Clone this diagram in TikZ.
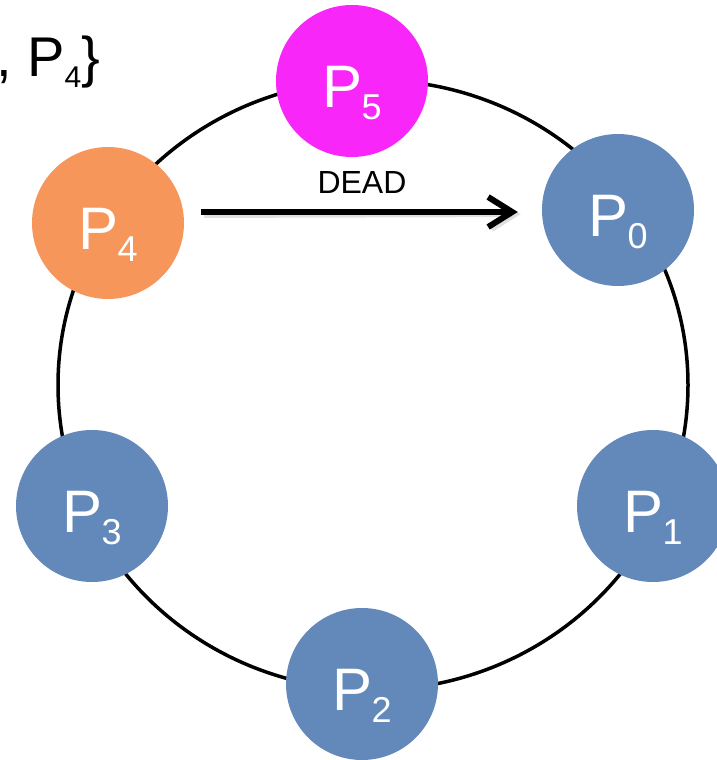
\documentclass[tikz,border=0pt]{standalone}
\usepackage{fontspec}
\setmainfont{Liberation Sans}
\usetikzlibrary{arrows.meta}
\definecolor{pblue}{RGB}{99,136,186}
\definecolor{porange}{RGB}{247,150,90}
\definecolor{pmag}{RGB}{248,38,248}
\newcommand{\plab}[1]{{\fontsize{60}{60}\selectfont P}\kern-1pt\raisebox{-12pt}{\fontsize{36}{36}\selectfont #1}}
\begin{document}
\begin{tikzpicture}[x=1pt,y=-1pt,
  proc/.style={circle, fill=#1, minimum size=152pt, inner sep=0pt},
  plabel/.style={text=white, inner sep=0pt, anchor=base},
  ring/.style={line width=3.5pt},
  deadarrow/.style={line width=6pt, -{Straight Barb[length=24pt,width=30pt]}},
  arrowshadow/.style={line width=6pt, draw=black!40, opacity=0.3, -{Straight Barb[length=24pt,width=30pt]}}]
\useasboundingbox (0,0) rectangle (717,760);
\draw[ring] (373,385) ellipse [x radius=315, y radius=305];
\node[proc=pmag] (p5) at (352,81) {};
\node[proc=pblue] (p0) at (618,210) {};
\node[proc=porange] (p4) at (108,223) {};
\node[proc=pblue] (p3) at (92,506) {};
\node[proc=pblue] (p1) at (653,506) {};
\node[proc=pblue] (p2) at (362,684) {};
\foreach \n/\s in {p5/5,p0/0,p4/4,p3/3,p1/1,p2/2}{
  \node[plabel] (l\n) at ([yshift=-26pt]\n.center) {\plab{\s}};
}
\draw[arrowshadow, shorten <=18pt, shorten >=23pt] ([xshift=2pt,yshift=8pt]p4.east) -- ([xshift=2pt,yshift=-4pt]p0.west);
\draw[deadarrow, shorten <=17pt, shorten >=24pt] ([yshift=11pt]p4.east) -- ([yshift=-2pt]p0.west);
\node[inner sep=0pt, font=\fontsize{32}{32}\selectfont] (dead) at (362,182) {DEAD};
\node[inner sep=0pt, anchor=base west, font=\fontsize{56}{56}\selectfont] (set) at (-4,77) {,\ P\raisebox{-11pt}{\fontsize{30}{30}\selectfont 4}\}};
\end{tikzpicture}
\end{document}
